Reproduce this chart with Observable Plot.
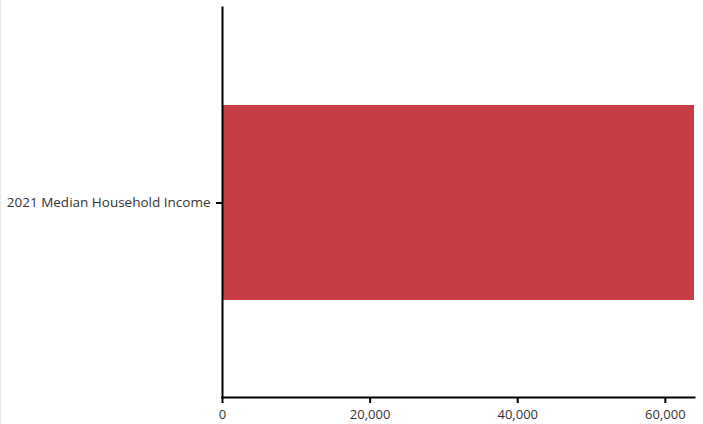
<!DOCTYPE html>
<html>
<head>
<meta charset="utf-8">
<script src="https://cdn.jsdelivr.net/npm/d3@7"></script>
<script src="https://cdn.jsdelivr.net/npm/@observablehq/plot@0.6"></script>
<style>
  html, body { margin: 0; padding: 0; background: #fff; }
  #chart { width: 703px; height: 424px; border-left: 1px solid #e6e6e6; box-sizing: border-box; }
</style>
</head>
<body>
<div id="chart"></div>
<script>
const categories = ["2021 Median Household Income"];
const values = [63950];
const xTicks = [0, 20000, 40000, 60000];

const data = categories.map((c, i) => ({category: c, value: values[i]}));

const chart = Plot.plot({
  width: 702,
  height: 424,
  marginLeft: 221,
  marginRight: 9,
  marginTop: 7,
  marginBottom: 27,
  style: {fontFamily: "'Open Sans', sans-serif", fontSize: "13px", color: "#333", background: "#fff"},
  x: {domain: [0, d3.max(values)], ticks: xTicks, tickFormat: d3.format(","), label: null},
  y: {domain: categories, padding: 1/3, label: null},
  marks: [
    Plot.barX(data, {x: "value", y: "category", fill: "#c73c45"}),
    Plot.axisX({ticks: xTicks, tickFormat: d3.format(","), tickSize: 6, stroke: "#000", strokeWidth: 2, tickPadding: 6, label: null, fill: "#333"}),
    Plot.axisY({tickSize: 6, stroke: "#000", strokeWidth: 2, tickPadding: 6, label: null, fill: "#333", fontSize: 13.5}),
    Plot.frame({anchor: "bottom", stroke: "#000", strokeWidth: 2}),
    Plot.frame({anchor: "left", stroke: "#000", strokeWidth: 2})
  ]
});
document.getElementById("chart").appendChild(chart);
</script>
</body>
</html>
